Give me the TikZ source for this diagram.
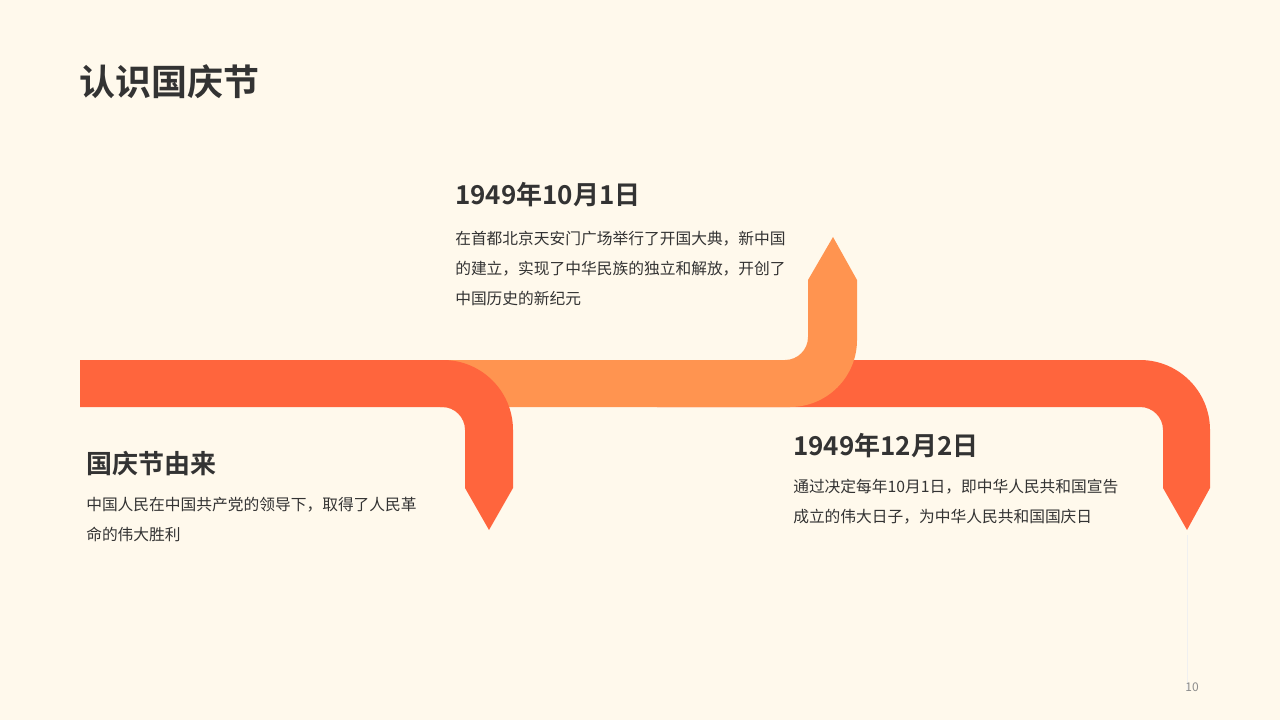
\documentclass[tikz,border=0pt]{standalone}
\usepackage{fontspec}
\setmainfont{Noto Sans CJK SC}
\newfontfamily\cjkb{Noto Sans CJK SC Bold}
\definecolor{bg}{HTML}{FFF9EC}
\definecolor{redA}{HTML}{FF653D}
\definecolor{orA}{HTML}{FF9450}
\definecolor{txt}{HTML}{333333}
\begin{document}
\begin{tikzpicture}[x=0.75pt,y=-0.75pt,
  body/.style={anchor=north west,align=left,text=txt,font=\fontsize{11.8pt}{22.5pt}\selectfont,inner sep=0},
  head/.style={anchor=west,text=txt,font=\cjkb\fontsize{19.5pt}{23pt}\selectfont,inner sep=0}]
\fill[bg] (0,0) rectangle (1280,720);
\useasboundingbox (0,0) rectangle (1280,720);
% arrow 3
\fill[redA] (657,360) -- (1140,360) arc[start angle=-90,end angle=0,radius=70] -- (1210,488) -- (1187,530) -- (1163,488) -- (1163,430) arc[start angle=0,end angle=-90,radius=23] -- (657,407) -- cycle;
% arrow 2
\fill[orA] (440,360) -- (785,360) arc[start angle=90,end angle=0,radius=23] -- (808,280) -- (833,237) -- (857,280) -- (857,340) arc[start angle=0,end angle=90,radius=67] -- (440,407) -- cycle;
% arrow 1
\fill[redA] (80,360) -- (443,360) arc[start angle=-90,end angle=0,radius=70] -- (513,488) -- (489,530) -- (465,488) -- (465,430) arc[start angle=0,end angle=-90,radius=23] -- (80,407) -- cycle;
\draw[black!6,line width=0.75pt] (1187,535) -- (1187,690);
\node[head,font=\cjkb\fontsize{27pt}{30pt}\selectfont] (title) at (79,82) {认识国庆节};
\node[head] (h1) at (455,195) {1949年10月1日};
\node[body] (b1) at (455,231) {在首都北京天安门广场举行了开国大典，新中国\\的建立，实现了中华民族的独立和解放，开创了\\中国历史的新纪元};
\node[head] (h2) at (86,464) {国庆节由来};
\node[body] (b2) at (86,497) {中国人民在中国共产党的领导下，取得了人民革\\命的伟大胜利};
\node[head] (h3) at (793,446) {1949年12月2日};
\node[body] (b3) at (793,479) {通过决定每年10月1日，即中华人民共和国宣告\\成立的伟大日子，为中华人民共和国国庆日};
\node[text=black!45,font=\fontsize{9pt}{10pt}\selectfont] (pg) at (1192,687) {10};
\end{tikzpicture}
\end{document}
